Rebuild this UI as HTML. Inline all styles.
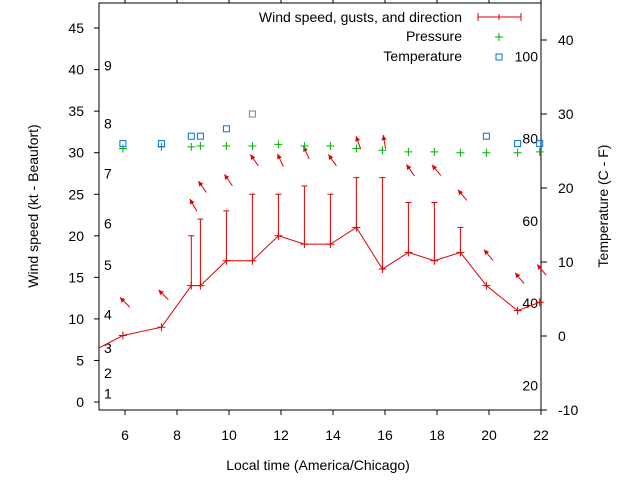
<!DOCTYPE html>
<html><head><meta charset="utf-8"><style>
body{margin:0;background:#fff;}
svg{display:block;font-family:"Liberation Sans",sans-serif;font-size:14px;}
</style></head><body>
<svg id="c" width="640" height="480">
<rect x="99" y="3" width="442" height="407" fill="none" stroke="#000" stroke-width="1"/>
<g id="ticks"></g>
<g id="marks"></g>
<text x="38" y="206" transform="rotate(-90 38 206)" text-anchor="middle">Wind speed (kt - Beaufort)</text>
<text x="608" y="206" transform="rotate(-90 608 206)" text-anchor="middle">Temperature (C - F)</text>
<text x="318" y="470" text-anchor="middle">Local time (America/Chicago)</text>
<g>
<text x="462" y="22" text-anchor="end">Wind speed, gusts, and direction</text>
<g stroke="#e00000"><line x1="478" y1="17" x2="521" y2="17"/><line x1="478" y1="13" x2="478" y2="21"/><line x1="521" y1="13" x2="521" y2="21"/><line x1="499" y1="14" x2="499" y2="20"/></g>
<text x="462" y="41" text-anchor="end">Pressure</text>
<g stroke="#00b000"><line x1="495" y1="37" x2="503" y2="37"/><line x1="499" y1="33" x2="499" y2="41"/></g>
<text x="462" y="61" text-anchor="end">Temperature</text>
<rect x="496" y="54" width="6" height="6" fill="none" stroke="#0070e0"/>
</g>
</svg>
<script>
const hours=[5.0,5.92,7.4,8.55,8.9,9.9,10.9,11.9,12.9,13.9,14.9,15.9,16.9,17.9,18.9,19.9,21.1,21.95];
const wind=[6.5,8,9,14,14,17,17,20,19,19,21,16,18,17,18,14,11,12];
const gusts=[null,null,null,20,22,23,25,25,26,25,27,27,24,24,21,null,null,null];
const arrowLevel=[null,12,12.9,23.7,25.9,26.7,29.1,29.1,30,29.1,31.2,31.3,27.9,27.9,24.9,17.7,14.9,15.9];
const arrowDir=[null,135,135,120,125,125,125,115,115,125,110,100,125,130,130,130,130,130];
const pressHours=[5.92,7.4,8.55,8.9,9.9,10.9,11.9,12.9,13.9,14.9,15.9,16.9,17.9,18.9,19.9,21.1,21.95];
const pressure=[30.5,30.7,30.7,30.8,30.8,30.8,31,30.8,30.8,30.5,30.3,30.1,30.1,30,30,30,30.1];
const tempHours=[5.92,7.4,8.55,8.9,9.9,10.9,19.9,21.1,21.95];
const temps=[26,26,27,27,28,30,27,26,26];
const xTicks=[6,8,10,12,14,16,18,20,22];
const yTicks=[0,5,10,15,20,25,30,35,40,45];
const y2Ticks=[-10,0,10,20,30,40];
const beaufort=[1,2,3,4,5,6,7,8,9];
const beaufortKt=[1,3.5,6.5,10.5,16.5,21.5,27.5,33.5,40.5];
const fahr=[20,40,60,80,100];

const X=h=>99+(h-5)*26;
const Y=v=>402-v*8.31;
const Y2=c=>336-c*7.4;
const NS="http://www.w3.org/2000/svg";
const T=document.getElementById('ticks'), M=document.getElementById('marks');
function mk(p,tag,at,txt){const e=document.createElementNS(NS,tag);for(const k in at)e.setAttribute(k,at[k]);if(txt!==undefined)e.textContent=txt;p.appendChild(e);return e;}

xTicks.forEach(t=>{const x=X(t);
 const a=mk(T,'line',{x1:x,y1:410,x2:x,y2:415,stroke:'#000'});
 const b=mk(T,'line',{x1:x,y1:3,x2:x,y2:-2,stroke:'#000'});
 const l=mk(T,'text',{x:x,y:440,'text-anchor':'middle'},t);});
yTicks.forEach(t=>{const y=Y(t);
 const a=mk(T,'line',{x1:94,y1:y,x2:99,y2:y,stroke:'#000'});
 const l=mk(T,'text',{x:84,y:y+5,'text-anchor':'end'},t);});
y2Ticks.forEach(t=>{const y=Y2(t);
 const a=mk(T,'line',{x1:541,y1:y,x2:547,y2:y,stroke:'#000'});
 const l=mk(T,'text',{x:558,y:y+5},t);});
beaufort.forEach((b,i)=>{const l=mk(T,'text',{x:104,y:Y(beaufortKt[i])+5},b);});
fahr.forEach(f=>{const l=mk(T,'text',{x:538,y:Y2((f-32)*5/9)+5,'text-anchor':'end'},f);});

const pl=mk(M,'polyline',{points:hours.map((h,i)=>X(h)+','+Y(wind[i])).join(' '),fill:'none',stroke:'#e00000'});

hours.forEach((h,i)=>{const x=X(h),y=Y(wind[i]);
 if(i>0){const g=mk(M,'path',{d:`M${x-4} ${y}H${x+4}M${x} ${y-4}V${y+4}`,stroke:'#e00000'});}
 if(gusts[i]!=null){const gy=Y(gusts[i]);const g=mk(M,'path',{d:`M${x} ${y}V${gy}M${x-3} ${gy}H${x+3}`,stroke:'#e00000'});}
 if(arrowLevel[i]!=null){const cy=Y(arrowLevel[i]),cx=x+2,r=arrowDir[i]*Math.PI/180,L=7;
  const tx=cx+L*Math.cos(r),ty=cy-L*Math.sin(r),bx=cx-L*Math.cos(r),by=cy+L*Math.sin(r);
  const ux=Math.cos(r),uy=-Math.sin(r);
  const hx1=tx-5*ux+2.5*uy,hy1=ty-5*uy-2.5*ux,hx2=tx-5*ux-2.5*uy,hy2=ty-5*uy+2.5*ux;
  const g=mk(M,'g',{});
  mk(g,'line',{x1:bx,y1:by,x2:tx,y2:ty,stroke:'#e00000'});
  mk(g,'polygon',{points:`${tx},${ty} ${hx1},${hy1} ${hx2},${hy2}`,fill:'#e00000'});}
});
pressHours.forEach((h,i)=>{const x=X(h),y=Y(pressure[i]);const g=mk(M,'path',{d:`M${x-4} ${y}H${x+4}M${x} ${y-4}V${y+4}`,stroke:'#00b000'});});
tempHours.forEach((h,i)=>{const x=X(h),y=Y2(temps[i]);const g=mk(M,'rect',{x:x-3,y:y-3,width:6,height:6,fill:'none',stroke:i==5?'#808080':'#0070e0'});});
</script>
</body></html>
